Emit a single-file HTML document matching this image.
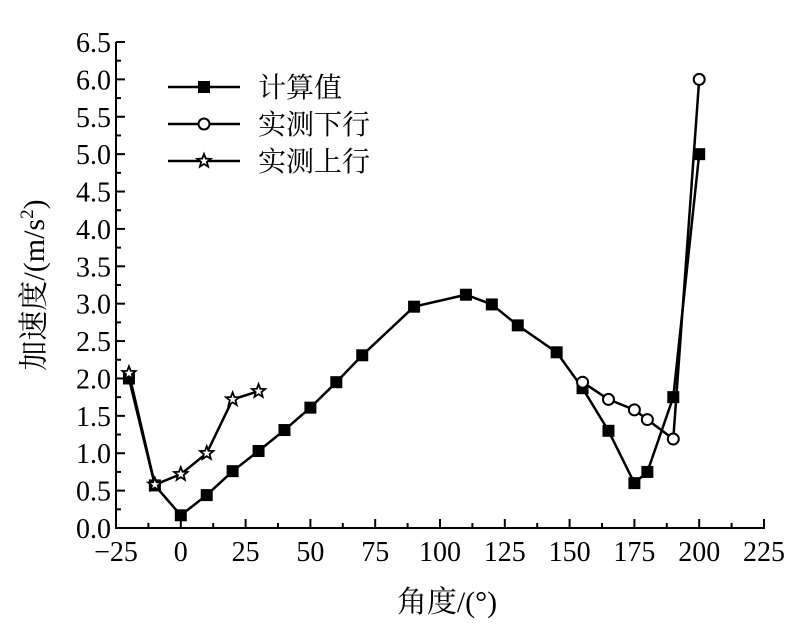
<!DOCTYPE html>
<html><head><meta charset="utf-8"><style>
body{margin:0;background:#fff}
svg text{font-family:"Liberation Serif","Noto Serif CJK SC",serif;fill:#000}
</style></head><body>
<svg id="chart" width="804" height="632" viewBox="0 0 804 632"></svg>
<script>
const calcX=[-20,-10,0,10,20,30,40,50,60,70,90,110,120,130,145,155,165,175,180,190,200];
const calcY=[2.0,0.57,0.17,0.44,0.76,1.03,1.31,1.61,1.95,2.31,2.96,3.12,2.99,2.71,2.35,1.87,1.30,0.60,0.75,1.75,5.0];
const downX=[155,165,175,180,190,200];
const downY=[1.95,1.72,1.58,1.45,1.19,6.0];
const upX=[-20,-10,0,10,20,30];
const upY=[2.07,0.58,0.72,1.0,1.72,1.83];
const xTicks=[-25,0,25,50,75,100,125,150,175,200,225];
const yTicks=[0,0.5,1,1.5,2,2.5,3,3.5,4,4.5,5,5.5,6,6.5];
const NS="http://www.w3.org/2000/svg";
const svg=document.getElementById('chart');
const X0=116,X1=764,Y0=528,Y1=42;
const xs=v=>X0+(v+25)/250*(X1-X0);
const ys=v=>Y0-v/6.5*(Y0-Y1);
function mk(t,a,p){const e=document.createElementNS(NS,t);for(const k in a)e.setAttribute(k,a[k]);(p||svg).appendChild(e);return e;}
let e;
e=mk('line',{x1:X0,y1:Y0,x2:X1+1,y2:Y0,stroke:'#000','stroke-width':2});


e=mk('line',{x1:X0,y1:Y0+1,x2:X0,y2:Y1,stroke:'#000','stroke-width':2});


xTicks.forEach((t,i)=>{
  const x=xs(t);
  mk('line',{x1:x,y1:Y0,x2:x,y2:Y0-9,stroke:'#000','stroke-width':2});
  if(i<xTicks.length-1)mk('line',{x1:xs(t+12.5),y1:Y0,x2:xs(t+12.5),y2:Y0-5,stroke:'#000','stroke-width':2});
  e=mk('text',{x:x,y:Y0+33,'text-anchor':'middle','font-size':28});
  e.textContent=t<0?'\u2212'+(-t):String(t);
  
  
});
yTicks.forEach((t,i)=>{
  const y=ys(t);
  mk('line',{x1:X0,y1:y,x2:X0+9,y2:y,stroke:'#000','stroke-width':2});
  if(i<yTicks.length-1)mk('line',{x1:X0,y1:ys(t+0.25),x2:X0+5,y2:ys(t+0.25),stroke:'#000','stroke-width':2});
  e=mk('text',{x:X0-5,y:y+10,'text-anchor':'end','font-size':28});
  e.textContent=t.toFixed(1);
  
  
});
function series(xa,ya,name,marker){
  const g=mk('g',{});
  
  
  mk('polyline',{points:xa.map((x,i)=>xs(x)+','+ys(ya[i])).join(' '),fill:'none',stroke:'#000','stroke-width':2.5},g);
  xa.forEach((x,i)=>marker(xs(x),ys(ya[i]),g));
}
const sq=(x,y,g)=>mk('rect',{x:x-6,y:y-6,width:12,height:12,fill:'#000'},g);
const ci=(x,y,g)=>mk('circle',{cx:x,cy:y,r:5.5,fill:'#fff',stroke:'#000','stroke-width':2},g);
function st(x,y,g){let p=[];for(let k=0;k<10;k++){const r=k%2?3:7,a=-Math.PI/2+k*Math.PI/5;p.push((x+r*Math.cos(a))+','+(y+r*Math.sin(a)));}mk('polygon',{points:p.join(' '),fill:'#fff',stroke:'#000','stroke-width':1.8},g);}
series(calcX,calcY,'series-calculated',sq);
series(downX,downY,'series-measured-down',ci);
series(upX,upY,'series-measured-up',st);
const leg=[['计算值',sq],['实测下行',ci],['实测上行',st]];
leg.forEach((l,i)=>{
  const y=87+i*37;
  const g=mk('g',{});
  
  
  mk('line',{x1:168,y1:y,x2:240,y2:y,stroke:'#000','stroke-width':2.5},g);
  l[1](204,y,g);
  const t=mk('text',{x:258,y:y+10,'font-size':28},g);t.textContent=l[0];
});
e=mk('text',{x:447,y:612,'text-anchor':'middle','font-size':30});
e.textContent='角度/(°)';


e=mk('text',{x:0,y:0,'text-anchor':'middle','font-size':30,transform:'translate(44,285) rotate(-90)'});
e.innerHTML='加速度/(m/s<tspan dy="-11" font-size="19">2</tspan><tspan dy="11">)</tspan>';


</script>
</body></html>
